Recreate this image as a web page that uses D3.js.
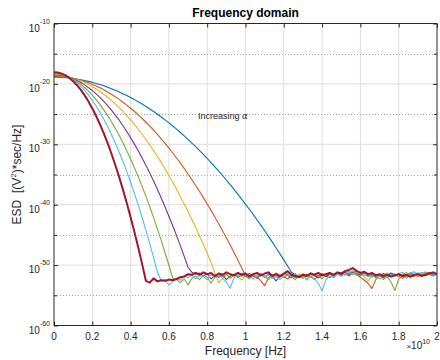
<!DOCTYPE html>
<html><head><meta charset="utf-8">
<script src="https://cdn.jsdelivr.net/npm/d3@7"></script>
<style>
body{margin:0;background:#fff}
svg{display:block}
text{font-family:"Liberation Sans",Arial,Helvetica,sans-serif}
</style>
</head><body>
<svg id="chart" width="440" height="360"></svg>
<script>
// Frequency samples, units of 1e10 Hz
const freq = [0,0.02,0.04,0.06,0.08,0.1,0.12,0.14,0.16,0.18,
0.2,0.22,0.24,0.26,0.28,0.3,0.32,0.34,0.36,0.38,
0.4,0.42,0.44,0.46,0.48,0.5,0.52,0.54,0.56,0.58,
0.6,0.62,0.64,0.66,0.68,0.7,0.72,0.74,0.76,0.78,
0.8,0.82,0.84,0.86,0.88,0.9,0.92,0.94,0.96,0.98,
1,1.02,1.04,1.06,1.08,1.1,1.12,1.14,1.16,1.18,
1.2,1.22,1.24,1.26,1.28,1.3,1.32,1.34,1.36,1.38,
1.4,1.42,1.44,1.46,1.48,1.5,1.52,1.54,1.56,1.58,
1.6,1.62,1.64,1.66,1.68,1.7,1.72,1.74,1.76,1.78,
1.8,1.82,1.84,1.86,1.88,1.9,1.92,1.94,1.96,1.98,2];

// log10(ESD) for each alpha, one value per frequency sample
const esdAlpha1 = [-18.90,-18.91,-18.93,-18.98,-19.03,-19.11,-19.20,-19.31,-19.44,-19.58,
-19.74,-19.92,-20.11,-20.32,-20.55,-20.79,-21.05,-21.33,-21.62,-21.93,
-22.26,-22.60,-22.97,-23.34,-23.74,-24.15,-24.58,-25.02,-25.49,-25.96,
-26.46,-26.97,-27.50,-28.05,-28.61,-29.19,-29.79,-30.40,-31.03,-31.68,
-32.34,-33.02,-33.72,-34.43,-35.16,-35.91,-36.67,-37.46,-38.25,-39.07,
-39.90,-40.75,-41.61,-42.50,-43.39,-44.31,-45.24,-46.19,-47.16,-48.14,
-49.14,-50.16,-51.19,
-51.6,-51.9,-51.5,-51.8,-51.4,-51.7,-52.1,-51.6,-51.9,-51.5,
-51.8,-51.3,-51.6,-51.2,-51.5,-51.1,-51.4,-51.7,-51.3,-51.6,
-51.9,-51.5,-51.8,-51.4,-51.7,-51.3,-51.6,-51.9,-51.5,-51.8,
-51.4,-51.7,-51.3,-51.6,-51.2,-51.5,-51.8,-51.4];

const esdAlpha2 = [-18.75,-18.76,-18.80,-18.87,-18.96,-19.08,-19.23,-19.40,-19.59,-19.82,
-20.07,-20.35,-20.65,-20.98,-21.34,-21.72,-22.13,-22.56,-23.03,-23.52,
-24.03,-24.57,-25.14,-25.73,-26.35,-27.00,-27.67,-28.37,-29.10,-29.85,
-30.63,-31.44,-32.27,-33.12,-34.01,-34.92,-35.86,-36.82,-37.81,-38.83,
-39.87,-40.94,-42.03,-43.16,-44.31,-45.48,-46.68,-47.91,-49.16,-50.44,
-51.75,
-52.2,-51.7,-52.0,-52.6,-53.4,-52.1,-51.6,-52.0,-51.5,-51.9,
-52.3,-51.7,-52.1,-51.6,-52.0,-51.5,-51.9,-52.4,-51.8,-51.4,
-51.7,-52.1,-51.6,-51.3,-51.7,-51.4,-51.8,-51.3,-51.6,-52.0,
-52.5,-53.0,-53.9,-52.4,-51.8,-52.1,-51.6,-51.9,-51.5,-51.8,
-52.2,-51.7,-52.0,-51.6,-51.9,-51.5,-51.8,-51.4,-51.7,-51.5];

const esdAlpha3 = [-18.60,-18.62,-18.67,-18.77,-18.89,-19.06,-19.26,-19.50,-19.78,-20.09,
-20.44,-20.83,-21.25,-21.71,-22.21,-22.74,-23.31,-23.92,-24.56,-25.24,
-25.96,-26.71,-27.51,-28.33,-29.20,-30.10,-31.04,-32.01,-33.03,-34.07,
-35.16,-36.28,-37.44,-38.64,-39.87,-41.14,-42.45,-43.79,-45.17,-46.59,
-48.04,-49.53,-51.3,
-52.9,-52.2,-51.6,-52.0,-51.5,-51.9,-52.5,-51.7,-52.1,-51.6,
-51.9,-51.4,-51.8,-52.2,-51.6,-52.0,-51.5,-51.9,-51.4,-51.7,
-52.0,-51.5,-51.9,-52.3,-51.6,-51.9,-51.4,-51.8,-51.5,-51.2,
-51.6,-51.3,-51.7,-51.4,-51.0,-51.3,-51.7,-51.4,-51.9,-52.6,
-51.8,-51.5,-51.9,-51.6,-51.3,-51.7,-51.4,-51.8,-51.5,-51.2,
-51.6,-51.3,-51.7,-51.4,-51.1,-51.5,-51.2,-51.6];

const esdAlpha4 = [-18.50,-18.53,-18.60,-18.73,-18.92,-19.15,-19.44,-19.77,-20.16,-20.61,
-21.10,-21.65,-22.24,-22.89,-23.60,-24.35,-25.16,-26.01,-26.92,-27.89,
-28.90,-29.97,-31.08,-32.25,-33.48,-34.75,-36.08,-37.45,-38.88,-40.37,
-41.90,-43.49,-45.12,-46.81,-48.56,-50.35,
-51.2,-51.5,-51.3,-51.8,-51.4,-52.3,-51.7,-52.0,-51.6,-52.4,
-51.8,-51.5,-52.0,-51.6,-51.9,-51.4,-51.8,-52.2,-51.6,-52.0,
-51.5,-51.9,-52.6,-51.8,-51.4,-51.7,-52.1,-51.6,-52.0,-51.5,
-51.8,-51.3,-51.7,-52.1,-51.6,-51.9,-51.4,-51.8,-51.3,-51.6,
-51.2,-51.5,-51.1,-51.4,-51.7,-51.3,-51.8,-51.5,-51.9,-51.6,
-52.0,-51.7,-51.4,-51.8,-51.5,-51.9,-51.6,-51.3,-51.7,-51.4,
-51.8,-51.5,-51.2,-51.6,-51.4];

const esdAlpha5 = [-18.35,-18.39,-18.49,-18.67,-18.91,-19.23,-19.62,-20.07,-20.60,-21.20,
-21.87,-22.61,-23.42,-24.30,-25.25,-26.27,-27.36,-28.52,-29.75,-31.06,
-32.43,-33.87,-35.39,-36.97,-38.63,-40.35,-42.15,-44.01,-45.95,-47.95,
-50.03,-52.18,
-52.4,-52.9,-52.3,-53.3,-52.2,-51.8,-52.4,-51.7,-52.0,-53.0,
-52.1,-51.6,-51.9,-51.5,-52.2,-51.7,-52.0,-51.4,-51.8,-52.3,
-51.6,-52.0,-51.5,-51.9,-52.4,-51.8,-51.3,-51.7,-52.1,-51.6,
-51.9,-52.4,-51.8,-52.2,-51.7,-52.0,-51.5,-51.8,-52.3,-51.6,
-51.4,-51.9,-51.5,-51.2,-51.7,-51.3,-51.0,-51.5,-51.8,-51.4,
-51.9,-51.6,-52.1,-51.7,-52.4,-51.9,-52.8,-54.2,-52.3,-51.8,
-52.2,-51.5,-51.9,-51.4,-51.7,-51.2,-51.6,-51.3,-51.5];

const esdAlpha6 = [-18.20,-18.25,-18.38,-18.61,-18.92,-19.33,-19.83,-20.41,-21.09,-21.86,
-22.72,-23.67,-24.71,-25.84,-27.06,-28.37,-29.77,-31.26,-32.84,-34.52,
-36.28,-38.13,-40.08,-42.11,-44.24,-46.45,-48.76,-51.15,
-52.6,-52.4,-53.3,-52.7,-52.2,-52.5,-51.8,-52.1,-51.6,-52.3,
-51.7,-51.9,-52.4,-51.6,-52.0,-51.5,-52.2,-52.8,-53.8,-52.1,
-51.6,-51.9,-51.3,-51.8,-52.3,-51.7,-51.4,-52.0,-51.6,-52.2,
-51.8,-52.4,-51.7,-51.3,-51.9,-51.4,-52.1,-51.8,-52.5,-51.9,
-52.2,-53.0,-54.3,-52.4,-51.8,-52.1,-51.5,-51.9,-51.4,-51.1,
-51.6,-50.8,-51.2,-51.7,-51.4,-52.0,-51.6,-52.3,-51.8,-52.1,
-51.5,-51.9,-51.4,-51.2,-51.6,-51.3,-51.1,-51.5,-51.2,-51.6,
-51.3,-51.7,-51.4];

const esdAlpha7 = [-18.06,-18.12,-18.30,-18.60,-19.02,-19.56,-20.22,-21.00,-21.90,-22.92,
-24.06,-25.32,-26.70,-28.20,-29.82,-31.56,-33.42,-35.40,-37.50,-39.72,
-42.06,-44.52,-47.10,-49.80,-52.62,
-52.9,-52.2,-52.7,-52.5,-52.6,-52.4,-52.5,-52.3,-52.0,-51.9,
-51.5,-51.6,-51.3,-51.6,-51.2,-51.5,-51.3,-51.8,-51.4,-51.6,
-51.2,-51.5,-51.7,-51.3,-51.6,-51.4,-51.9,-51.5,-51.3,-51.7,
-51.4,-51.2,-51.8,-51.5,-51.9,-51.4,-51.0,-51.6,-51.8,-52.0,
-51.6,-51.8,-51.4,-51.6,-51.3,-51.7,-51.5,-51.3,-51.6,-51.2,
-51.4,-51.0,-50.8,-50.5,-51.0,-51.3,-51.1,-51.5,-51.3,-51.7,
-51.5,-51.8,-51.6,-51.9,-51.7,-51.5,-51.8,-51.6,-51.9,-51.7,
-51.5,-51.8,-51.6,-51.4,-51.2,-51.5];

const seriesList = [esdAlpha1, esdAlpha2, esdAlpha3, esdAlpha4, esdAlpha5, esdAlpha6, esdAlpha7];
const seriesColors = ["#0072BD","#D95319","#EDB120","#7E2F8E","#77AC30","#4DBEEE","#A2142F"];
const seriesWidths = [1.1,1.1,1.1,1.1,1.1,1.1,2];

const xTicks = [0,0.2,0.4,0.6,0.8,1,1.2,1.4,1.6,1.8,2];
const xTickLabels = ["0","0.2","0.4","0.6","0.8","1","1.2","1.4","1.6","1.8","2"];
const yTickExp = [-60,-50,-40,-30,-20,-10];
const yMinorExp = [-55,-45,-35,-25,-15];

const svg = d3.select("#chart");
const L = 54, R = 437, T = 23.5, B = 325.5;
const ink = "#262626";

const x = d3.scaleLinear().domain([0, 2]).range([L, R]);
const y = d3.scaleLog().domain([1e-60, 1e-10]).range([B, T]);

svg.append("rect").attr("x", L).attr("y", T).attr("width", R - L).attr("height", B - T).attr("fill", "#fff");

// grid
const grid = svg.append("g");
grid.selectAll("line.vx").data(xTicks.slice(1, -1)).join("line")
  .attr("x1", d => x(d)).attr("x2", d => x(d)).attr("y1", T).attr("y2", B)
  .attr("stroke", "#dedede").attr("stroke-width", 1);
grid.selectAll("line.hy").data(yTickExp.slice(1, -1)).join("line")
  .attr("x1", L).attr("x2", R).attr("y1", d => y(Math.pow(10, d))).attr("y2", d => y(Math.pow(10, d)))
  .attr("stroke", "#dedede").attr("stroke-width", 1);
grid.selectAll("line.mn").data(yMinorExp).join("line")
  .attr("x1", L).attr("x2", R).attr("y1", d => Math.round(y(Math.pow(10, d))) + 0.5).attr("y2", d => Math.round(y(Math.pow(10, d))) + 0.5)
  .attr("stroke", "#a8a8a8").attr("stroke-width", 1).attr("stroke-dasharray", "1,2");

// clip
svg.append("clipPath").attr("id", "clip").append("rect")
  .attr("x", L).attr("y", T).attr("width", R - L).attr("height", B - T);

const line = d3.line()
  .x((d, i) => x(freq[i]))
  .y(d => y(Math.pow(10, d)));

const curves = svg.append("g").attr("clip-path", "url(#clip)");
seriesList.forEach((s, k) => {
  curves.append("path").datum(s)
    .attr("d", line)
    .attr("fill", "none")
    .attr("stroke", seriesColors[k])
    .attr("stroke-width", seriesWidths[k])
    .attr("stroke-linejoin", "round");
});

// axes (ticks inward)
function styleAxis(g) {
  g.select(".domain").remove();
  g.selectAll(".tick line").attr("stroke", ink).attr("stroke-width", 1);
  g.selectAll(".tick text").remove();
}
const yMajor = yTickExp.map(e => Math.pow(10, e));
const yMinor = yMinorExp.map(e => Math.pow(10, e));

svg.append("g").attr("transform", `translate(0,${B})`)
  .call(d3.axisBottom(x).tickValues(xTicks).tickSize(-4)).call(styleAxis);
svg.append("g").attr("transform", `translate(0,${T})`)
  .call(d3.axisTop(x).tickValues(xTicks).tickSize(-4)).call(styleAxis);
svg.append("g").attr("transform", `translate(${L},0)`)
  .call(d3.axisLeft(y).tickValues(yMajor).tickSize(-4)).call(styleAxis);
svg.append("g").attr("transform", `translate(${L},0)`)
  .call(d3.axisLeft(y).tickValues(yMinor).tickSize(-3)).call(styleAxis);
svg.append("g").attr("transform", `translate(${R},0)`)
  .call(d3.axisRight(y).tickValues(yMajor).tickSize(-4)).call(styleAxis);
svg.append("g").attr("transform", `translate(${R},0)`)
  .call(d3.axisRight(y).tickValues(yMinor).tickSize(-3)).call(styleAxis);

// box
const box = svg.append("g").attr("stroke", ink).attr("stroke-width", 1);
box.append("line").attr("x1", L).attr("x2", R).attr("y1", T).attr("y2", T);
box.append("line").attr("x1", L).attr("x2", R).attr("y1", B).attr("y2", B);
box.append("line").attr("x1", L).attr("x2", L).attr("y1", T).attr("y2", B);
box.append("line").attr("x1", R).attr("x2", R).attr("y1", T).attr("y2", B);

// x tick labels
svg.append("g").selectAll("text").data(xTicks).join("text")
  .attr("x", d => x(d)).attr("y", 340.3)
  .attr("text-anchor", "middle").attr("font-size", 10).attr("fill", ink)
  .text((d, i) => xTickLabels[i]);

// y tick labels 10^n
const yl = svg.append("g").selectAll("text").data(yTickExp).join("text")
  .attr("x", 50).attr("y", d => y(Math.pow(10, d)) + 8)
  .attr("text-anchor", "end").attr("font-size", 10).attr("fill", ink);
yl.append("tspan").text("10");
yl.append("tspan").attr("dy", -8).attr("font-size", 7).text(d => String(d));

// x exponent label
const xe = svg.append("text").attr("x", 430).attr("y", 349)
  .attr("text-anchor", "end").attr("font-size", 10).attr("fill", ink);
xe.append("tspan").attr("font-size", 8).text("\u00D7");
xe.append("tspan").text("10");
xe.append("tspan").attr("dy", -5).attr("font-size", 7).text("10");

// title
svg.append("text").attr("x", (L + R) / 2).attr("y", 17)
  .attr("text-anchor", "middle").attr("font-size", 12).attr("font-weight", "bold").attr("fill", "#000")
  .text("Frequency domain");

// x label
svg.append("text").attr("x", (L + R) / 2).attr("y", 355)
  .attr("text-anchor", "middle").attr("font-size", 12).attr("fill", ink)
  .text("Frequency [Hz]");

// y label
const ylab = svg.append("text")
  .attr("transform", `translate(20.5,${(T + B) / 2}) rotate(-90)`)
  .attr("text-anchor", "middle").attr("font-size", 12).attr("fill", ink)
  .attr("xml:space", "preserve");
ylab.append("tspan").text("ESD\u00A0\u00A0[(V");
ylab.append("tspan").attr("dy", -4.5).attr("font-size", 8).text("2");
ylab.append("tspan").attr("dy", 4.5).text(")*sec/Hz]");

// annotation
const ann = svg.append("text").attr("x", 198).attr("y", 118.5)
  .attr("font-size", 9).attr("fill", ink);
ann.append("tspan").text("Increasing ");
ann.append("tspan").attr("font-family", "DejaVu Serif, serif").attr("font-style", "italic").attr("font-size", 8.5).text("\u03B1");
</script>
</body></html>
